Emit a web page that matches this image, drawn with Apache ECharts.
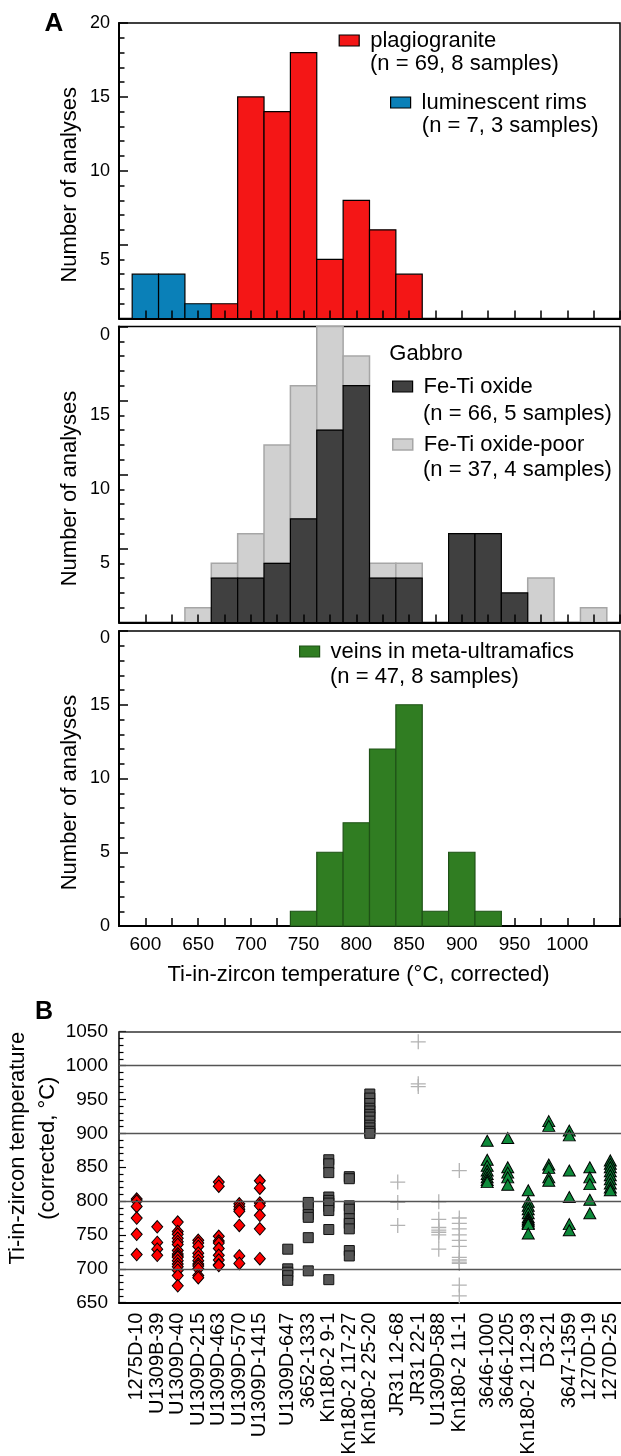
<!DOCTYPE html>
<html>
<head>
<meta charset="utf-8">
<script src="https://cdn.jsdelivr.net/npm/echarts@6/dist/echarts.min.js"></script>
<style>
  html, body { margin: 0; padding: 0; background: #fff; }
  #chart { width: 621px; height: 1456px; }
</style>
</head>
<body>
<div id="chart"></div>
<script>
// ---- Panel A: Ti-in-zircon temperature histograms (25 °C bins) ----
const binCenters = [600, 625, 650, 675, 700, 725, 750, 775, 800, 825, 850, 875, 900, 925, 950, 975, 1000, 1025];
const luminescentRims = [3, 3, 1, 0, 0, 0, 0, 0, 0, 0, 0, 0, 0, 0, 0, 0, 0, 0];
const plagiogranite   = [0, 0, 0, 1, 15, 14, 18, 4, 8, 6, 3, 0, 0, 0, 0, 0, 0, 0];
const gabbroOxide     = [0, 0, 0, 3, 3, 4, 7, 13, 16, 3, 3, 0, 6, 6, 2, 0, 0, 0];
const gabbroOxidePoor = [0, 0, 1, 1, 3, 8, 9, 7, 2, 1, 1, 0, 0, 0, 0, 3, 0, 1];
const veinsUltramafic = [0, 0, 0, 0, 0, 0, 1, 5, 7, 12, 15, 1, 5, 1, 0, 0, 0, 0];
const countTicks = [0, 5, 10, 15, 20];
const tempTickLabels = [600, 650, 700, 750, 800, 850, 900, 950, 1000];

// ---- Panel B: temperatures per sample, grouped by rock type ----
const plagiograniteSamples = ['1275D-10', 'U1309B-39', 'U1309D-40', 'U1309D-215', 'U1309D-463', 'U1309D-570', 'U1309D-1415'];
const plagiograniteTemps = [
  [803, 800, 792, 775, 751, 721],
  [762, 739, 729, 720],
  [769, 755, 751, 745, 740, 736, 727, 722, 719, 717, 712, 707, 703, 698, 690, 675],
  [742, 738, 733, 723, 718, 712, 707, 704, 700, 690, 687],
  [828, 822, 748, 741, 738, 730, 720, 713, 706, 705],
  [796, 792, 788, 785, 764, 719, 708],
  [830, 819, 797, 793, 779, 759, 715]
];
const oxideGabbroSamples = ['U1309D-647', '3652-1333', 'Kn180-2 9-1', 'Kn180-2 117-27', 'Kn180-2 25-20'];
const oxideGabbroTemps = [
  [729, 700, 695, 690, 683],
  [798, 792, 780, 776, 746, 697],
  [861, 855, 842, 806, 801, 797, 792, 786, 758, 684],
  [836, 833, 793, 788, 774, 767, 759, 727, 719],
  [958, 952, 944, 937, 933, 928, 924, 918, 912, 908, 903, 900]
];
const oxidePoorSamples = ['JR31 12-68', 'JR31 22-1', 'U1309D-588', 'Kn180-2 11-1'];
const oxidePoorTemps = [
  [828, 798, 764],
  [1035, 973, 969],
  [799, 773, 761, 757, 754, 750, 729],
  [845, 775, 767, 759, 750, 742, 733, 717, 713, 710, 708, 676, 660]
];
const veinSamples = ['3646-1000', '3646-1205', 'Kn180-2 112-93', 'D3-21', '3647-1359', '1270D-19', '1270D-25'];
const veinTemps = [
  [889, 861, 852, 845, 840, 835, 831, 828],
  [893, 850, 842, 835, 824],
  [816, 799, 793, 788, 782, 776, 773, 771, 768, 766, 752],
  [918, 911, 854, 849, 835, 830],
  [904, 897, 845, 806, 766, 757],
  [850, 835, 825, 802, 782],
  [860, 855, 850, 844, 838, 832, 826, 820, 816]
];
const tempGridLines = [700, 800, 900, 1000];

// ---- layout helpers ----
const FONT = '"Liberation Sans", Arial, Helvetica, sans-serif';
const BIN = 25;
const GROUP_GAP = 0.36;   // extra spacing between rock-type groups, in sample slots

// slot position of every sample along the panel B x axis
const groups = [plagiograniteSamples, oxideGabbroSamples, oxidePoorSamples, veinSamples];
const sampleNames = [];
const samplePos = [];
(function () {
  let k = 0;
  groups.forEach((g, gi) => g.forEach(name => {
    sampleNames.push(name);
    samplePos.push(+(k + gi * GROUP_GAP).toFixed(4));
    k++;
  }));
})();
function posOf(name) { return samplePos[sampleNames.indexOf(name)]; }
function pointsOf(names, temps) {
  const out = [];
  names.forEach((n, i) => temps[i].forEach(t => out.push([posOf(n), t])));
  return out;
}

// histogram bars drawn as rectangles on the value axes
function histSeries(name, grid, counts, bases, fill, stroke, lw, z) {
  return {
    type: 'custom', name: name, xAxisIndex: grid, yAxisIndex: grid, z: z,
    itemStyle: { color: fill, borderColor: stroke, borderWidth: lw },
    data: binCenters.map((c, i) => [c, counts[i], bases ? bases[i] : 0]),
    renderItem: function (params, api) {
      const c = api.value(0), n = api.value(1), b = api.value(2);
      if (!n) return null;
      const p0 = api.coord([c - BIN / 2, b]);
      const p1 = api.coord([c + BIN / 2, b + n]);
      return {
        type: 'rect',
        shape: { x: p0[0], y: p1[1], width: p1[0] - p0[0], height: p0[1] - p1[1] },
        style: { fill: fill, stroke: stroke, lineWidth: lw }
      };
    }
  };
}

const gridsA = [
  { left: 119, top: 23, width: 501, height: 295.5 },
  { left: 119, top: 326.5, width: 501, height: 296 },
  { left: 119, top: 631, width: 501, height: 295 }
].map(g => Object.assign(g, { show: true, borderColor: '#000', borderWidth: 1.5, backgroundColor: 'transparent', outerBoundsMode: 'none' }));
const gridB = { left: 119, top: 1031.7, width: 502, height: 271, outerBoundsMode: 'none' };

function xAxisA(i) {
  return {
    gridIndex: i, type: 'value', min: 575, max: 1050, interval: 25, z: i < 2 ? 5 : 0,
    axisLine: { show: true, onZero: false, lineStyle: { color: '#000', width: 2 } },
    axisTick: { show: true, inside: true, length: 8, lineStyle: { color: '#000', width: 1.5 } },
    splitLine: { show: false },
    axisLabel: {
      show: i === 2, fontSize: 19, color: '#000', margin: 9, fontFamily: FONT,
      formatter: v => tempTickLabels.indexOf(v) >= 0 ? String(v) : ''
    },
    name: i === 2 ? 'Ti-in-zircon temperature (°C, corrected)' : '',
    nameLocation: 'middle', nameGap: 38, nameMoveOverlap: false,
    nameTextStyle: { fontSize: 22, color: '#000', fontFamily: FONT, padding: [0, 22, 0, 0] }
  };
}

const yLabelFormat = [
  v => v === 0 ? '' : (v === 5 ? '{low|5}' : String(v)),
  v => v === 0 ? '' : (v === 20 ? '{top|0}' : '{low|' + v + '}'),
  v => v === 20 ? '{top|0}' : String(v)
];
const yLabelRich = [
  { low: { fontSize: 18, padding: [30, 0, 0, 0], fontFamily: FONT, color: '#000' } },
  { low: { fontSize: 18, padding: [29, 0, 0, 0], fontFamily: FONT, color: '#000' },
    top: { fontSize: 18, padding: [18, 0, 0, 0], fontFamily: FONT, color: '#000' } },
  { top: { fontSize: 18, padding: [14, 0, 0, 0], fontFamily: FONT, color: '#000' } }
];
function yAxisA(i) {
  return {
    gridIndex: i, type: 'value', min: countTicks[0], max: countTicks[countTicks.length - 1], interval: 5,
    axisLine: { show: true, onZero: false, lineStyle: { color: '#000', width: 2 } },
    axisTick: { show: true, inside: true, length: 9, lineStyle: { color: '#000', width: 1.5 } },
    minorTick: { show: true, splitNumber: 5, length: 5.5, lineStyle: { color: '#000', width: 1.5 } },
    splitLine: { show: false }, minorSplitLine: { show: false },
    axisLabel: { fontSize: 18, color: '#000', margin: 9, fontFamily: FONT, formatter: yLabelFormat[i], rich: yLabelRich[i] },
    name: 'Number of analyses', nameLocation: 'middle', nameRotate: 90, nameGap: 38, nameMoveOverlap: false,
    nameTextStyle: { fontSize: 22, color: '#000', fontFamily: FONT, padding: [0, 28, 0, 0] }
  };
}

const legendBase = {
  orient: 'vertical', padding: 0, itemWidth: 20, itemHeight: 11, icon: 'rect', selectedMode: false,
  textStyle: { fontSize: 22, color: '#000', fontFamily: FONT, padding: [0, 0, 0, 6] }
};
function legendAt(name, left, top, border, bw) {
  return Object.assign({}, legendBase, {
    left: left, top: top,
    data: [{ name: name, itemStyle: { borderColor: border, borderWidth: bw } }]
  });
}
function noteAt(text, left, top, size, weight) {
  return {
    text: text, left: left, top: top, padding: 0,
    textStyle: { fontSize: size || 22, fontWeight: weight || 'normal', color: '#000', fontFamily: FONT }
  };
}

const option = {
  animation: false,
  backgroundColor: '#fff',
  textStyle: { fontFamily: FONT },
  title: [
    noteAt('A', 44.5, 11, 26, 'bold'),
    noteAt('B', 35, 1000, 25, 'bold'),
    noteAt('(n = 69, 8 samples)', 370, 52.5),
    noteAt('(n = 7, 3 samples)', 421.8, 115),
    noteAt('Gabbro', 389.3, 343),
    noteAt('(n = 66, 5 samples)', 423, 402.5),
    noteAt('(n = 37, 4 samples)', 423, 458.5),
    noteAt('(n = 47, 8 samples)', 330, 665.8)
  ],
  legend: [
    legendAt('plagiogranite', 338.6, 29.5, '#000', 1.2),
    legendAt('luminescent rims', 390, 91.5, '#000', 1.2),
    legendAt('Fe-Ti oxide', 392, 375.5, '#000', 1.2),
    legendAt('Fe-Ti oxide-poor', 392, 433.5, '#a6a6a6', 1.5),
    legendAt('veins in meta-ultramafics', 299, 640.5, '#1e5216', 1.2)
  ],
  grid: gridsA.concat([gridB]),
  xAxis: [xAxisA(0), xAxisA(1), xAxisA(2), {
    gridIndex: 3, type: 'value', min: -0.863, max: 23.6,
    axisLine: { show: true, onZero: false, lineStyle: { color: '#000', width: 2 } },
    axisTick: { show: false },
    splitLine: { show: false },
    axisLabel: {
      customValues: samplePos, rotate: 90, margin: 10, fontSize: 20, lineHeight: 16, color: '#000',
      showMinLabel: true, showMaxLabel: true, hideOverlap: false, fontFamily: FONT,
      formatter: v => {
        const k = samplePos.findIndex(p => Math.abs(p - v) < 1e-6);
        return k >= 0 ? sampleNames[k] : '';
      }
    }
  }],
  yAxis: [yAxisA(0), yAxisA(1), yAxisA(2), {
    gridIndex: 3, type: 'value', min: 650, max: 1050, interval: 50,
    axisLine: { show: true, onZero: false, lineStyle: { color: '#000', width: 1.5 } },
    axisTick: { show: true, inside: true, length: 7, lineStyle: { color: '#000', width: 1.2 } },
    minorTick: { show: true, splitNumber: 5, length: 4.5, lineStyle: { color: '#000', width: 1.2 } },
    splitLine: { show: false }, minorSplitLine: { show: false },
    axisLabel: { fontSize: 19, color: '#000', margin: 11, fontFamily: FONT, formatter: v => String(v) },
    name: 'Ti-in-zircon temperature\n(corrected, °C)', nameLocation: 'middle', nameRotate: 90, nameGap: 56,
    nameMoveOverlap: false,
    nameTextStyle: { fontSize: 22, lineHeight: 30, color: '#000', fontFamily: FONT, padding: [0, 0, 0, 38] }
  }],
  series: [
    histSeries('luminescent rims', 0, luminescentRims, null, '#0a80b8', '#000', 1.2, 2),
    histSeries('plagiogranite', 0, plagiogranite, null, '#f41616', '#000', 1.2, 2),
    histSeries('Fe-Ti oxide-poor', 1, gabbroOxidePoor, gabbroOxide, '#d0d0d0', '#a6a6a6', 1.5, 2),
    histSeries('Fe-Ti oxide', 1, gabbroOxide, null, '#404040', '#000', 1.2, 3),
    histSeries('veins in meta-ultramafics', 2, veinsUltramafic, null, '#307d22', '#1e5216', 1.2, 2),
    {
      type: 'scatter', xAxisIndex: 3, yAxisIndex: 3, data: [], z: 1, silent: true,
      markLine: {
        silent: true, symbol: ['none', 'none'], label: { show: false },
        lineStyle: { type: 'solid', color: '#555', width: 1.3 },
        data: tempGridLines.map(v => ({ yAxis: v })).concat([{ yAxis: 1050, lineStyle: { color: '#333', width: 1.5 } }])
      }
    },
    {
      type: 'scatter', name: 'plagiogranite samples', xAxisIndex: 3, yAxisIndex: 3,
      symbol: 'diamond', symbolSize: [11, 12.5],
      itemStyle: { color: '#ff0000', borderColor: '#000', borderWidth: 1, opacity: 1 },
      data: pointsOf(plagiograniteSamples, plagiograniteTemps)
    },
    {
      type: 'scatter', name: 'Fe-Ti oxide gabbro samples', xAxisIndex: 3, yAxisIndex: 3,
      symbol: 'rect', symbolSize: 10,
      itemStyle: { color: '#555', borderColor: '#111', borderWidth: 1, opacity: 1 },
      data: pointsOf(oxideGabbroSamples, oxideGabbroTemps)
    },
    {
      type: 'scatter', name: 'Fe-Ti oxide-poor gabbro samples', xAxisIndex: 3, yAxisIndex: 3,
      symbol: 'path://M5,0 L5,10 M0,5 L10,5', symbolSize: 15,
      itemStyle: { color: 'rgba(0,0,0,0)', borderColor: '#b3b3b3', borderWidth: 1.3, opacity: 1 },
      data: pointsOf(oxidePoorSamples, oxidePoorTemps)
    },
    {
      type: 'scatter', name: 'vein samples', xAxisIndex: 3, yAxisIndex: 3,
      symbol: 'triangle', symbolSize: [12, 11],
      itemStyle: { color: '#0e8a3a', borderColor: '#000', borderWidth: 1, opacity: 1 },
      data: pointsOf(veinSamples, veinTemps)
    }
  ]
};

const chart = echarts.init(document.getElementById('chart'), null, { renderer: 'canvas' });
chart.setOption(option);
</script>
</body>
</html>
